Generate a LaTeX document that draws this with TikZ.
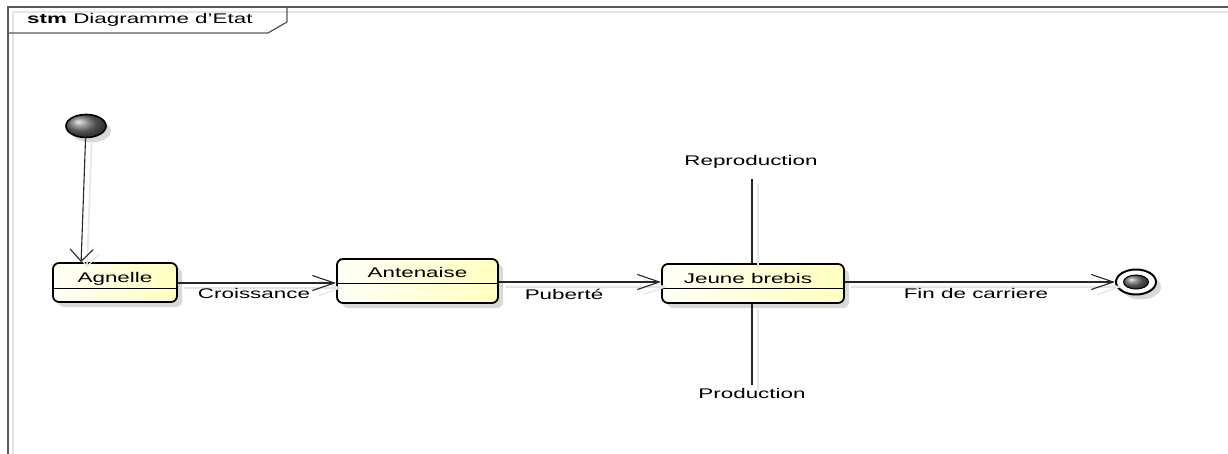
\documentclass[tikz,border=0pt]{standalone}
\usepackage{fontspec}
\setmainfont{Liberation Sans}[FakeStretch=1.6]
\usetikzlibrary{arrows.meta,shapes.geometric,shadows}

\begin{document}
\begin{tikzpicture}[x=1pt,y=-1pt,
  lbl/.style={font=\fontsize{14}{16}\selectfont, inner sep=0pt},
  frameline/.style={draw=black!65, line width=1.3pt,
    preaction={draw=black!10, line width=1.3pt, transform canvas={shift={(5pt,-5pt)}}}},
  statebox/.style={draw=black, line width=1.8pt, rounded corners=6pt,
    left color=yellow!3, right color=yellow!25,
    drop shadow={shadow xshift=5pt, shadow yshift=-5pt, fill=black, opacity=0.15}},
  divider/.style={draw=black, line width=1pt},
  edge/.style={draw=black!85, line width=1.1pt,
    preaction={draw=black!10, line width=1.6pt, transform canvas={shift={(6pt,-5pt)}}}},
  harrow/.style={-{Straight Barb[length=22pt,width=15pt,line width=1.1pt]}},
  varrow/.style={-{Straight Barb[length=12pt,width=23pt,line width=1.1pt]}},
  pseudo/.style={ellipse, inner sep=0pt, draw=black, line width=1.6pt,
    shading=ball, ball color=black!55,
    drop shadow={shadow xshift=5pt, shadow yshift=-5pt, fill=black, opacity=0.15}}
]
\useasboundingbox (0,0) rectangle (1228,454);

% diagram frame with its title tab
\coordinate (ftr) at (1228,7);
\coordinate (ftl) at (8,7);
\coordinate (fbl) at (8,454);
\coordinate (tba) at (8,33);
\coordinate (tbb) at (268,33);
\coordinate (tbc) at (287,22);
\coordinate (tbd) at (287,7);
\draw[frameline] (ftr) -- (ftl) -- (fbl);
\draw[draw=black!65, line width=1.3pt] (tba) -- (tbb) -- (tbc) -- (tbd);
\node[lbl, anchor=west] (title) at (27,20) {\textbf{stm} Diagramme d'Etat};

% initial pseudo-state
\node[pseudo, minimum width=40pt, minimum height=23pt] (init) at (86,126) {};

% states
\node[statebox, minimum width=124pt, minimum height=39pt] (ag) at (115,282.5) {};
\draw[divider] ([yshift=-5.5pt]ag.west) -- ([yshift=-5.5pt]ag.east);
\node[lbl] (agt) at (115,279) {Agnelle};

\node[statebox, minimum width=161pt, minimum height=44pt] (ant) at (417.5,281) {};
\draw[divider] ([yshift=-2pt]ant.west) -- ([yshift=-2pt]ant.east);
\node[lbl] (antt) at (417.5,272) {Antenaise};

\node[statebox, minimum width=182pt, minimum height=39pt] (jb) at (753,283.5) {};
\draw[divider] ([yshift=-4.5pt]jb.west) -- ([yshift=-4.5pt]jb.east);
\node[lbl] (jbt) at (748,278) {Jeune brebis};

% final state
\node[ellipse, inner sep=0pt, draw=black, line width=2pt, fill=white,
  minimum width=40pt, minimum height=25pt,
  drop shadow={shadow xshift=5pt, shadow yshift=-5pt, fill=black, opacity=0.15}] (fin) at (1136,282) {};
\node[ellipse, inner sep=0pt, draw=black, line width=1pt, shading=ball, ball color=black!55,
  minimum width=25pt, minimum height=14pt] (finin) at (fin.center) {};

% transitions
\draw[edge, varrow] (init) -- ([xshift=29pt]ag.north west);
\draw[edge, harrow] (ag.east |- 0,283) -- (ant.west |- 0,283);
\node[lbl] (croiss) at (254,293) {Croissance};
\draw[edge, harrow] (ant.east |- 0,282) -- (jb.west |- 0,282);
\node[lbl] (pub) at (564,294) {Pubert\'e};
\draw[edge, harrow] (jb.east |- 0,282) -- (fin.west);
\node[lbl] (fdc) at (976,293) {Fin de carriere};

% reproduction / production branches
\coordinate (repend) at (752,179);
\coordinate (prodend) at (752,385);
\draw[edge] (jb.north -| repend) -- (repend);
\node[lbl] (rep) at (751,162) {Reproduction};
\draw[edge] (jb.south -| prodend) -- (prodend);
\node[lbl] (prod) at (752,393) {Production};
\end{tikzpicture}
\end{document}
